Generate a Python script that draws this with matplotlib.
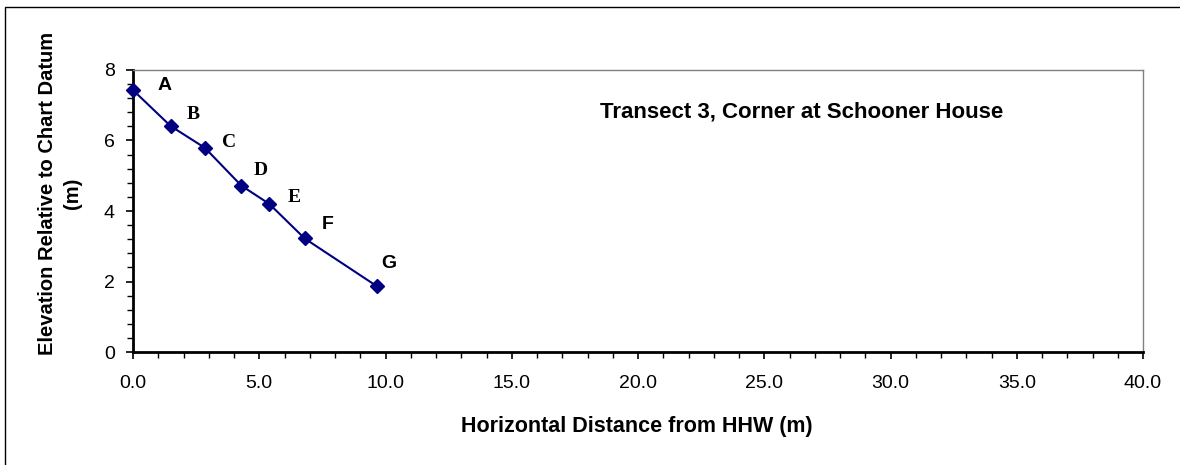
import matplotlib
matplotlib.use("Agg")
from matplotlib import pyplot as plt
from matplotlib.patches import Rectangle
from matplotlib.ticker import MultipleLocator, FormatStrFormatter

# survey points along the transect
labels = ["A", "B", "C", "D", "E", "F", "G"]
distance = [0.0, 1.49, 2.85, 4.29, 5.40, 6.80, 9.65]
elevation = [7.43, 6.41, 5.79, 4.72, 4.20, 3.22, 1.87]

# how each point label is drawn (serif or not) and where it sits, in pixels from its point
label_serif = [False, True, True, True, True, False, False]
label_offsets = [(25, 5), (16, 12), (17, 5), (12, 15), (18, 6), (17, 14), (5, 23)]

SANS = "Liberation Sans"
SERIF = "Liberation Serif"
NAVY = "#000080"

fig = plt.figure(figsize=(11.8, 4.65), dpi=100)
fig.patches.append(Rectangle((5 / 1180, -0.05), 1.2, (465 - 7) / 465 + 0.05,
                             transform=fig.transFigure, fill=False,
                             edgecolor="black", linewidth=1.0))

ax = fig.add_axes([133 / 1180, (465 - 352) / 465, (1143 - 133) / 1180, (352 - 70) / 465])
ax.plot(distance, elevation, color=NAVY, linewidth=1.5, marker="D",
        markersize=7.5, markerfacecolor=NAVY, markeredgecolor=NAVY, clip_on=False, zorder=3)

for lab, x, y, serif, off in zip(labels, distance, elevation, label_serif, label_offsets):
    ax.annotate(lab, (x, y), xytext=off, textcoords="offset pixels",
                fontsize=14, fontweight="bold", family=SERIF if serif else SANS,
                ha="left", va="center")

ax.text(0.662, 0.851, "Transect 3, Corner at Schooner House", transform=ax.transAxes,
        fontsize=16, fontweight="bold", family=SANS, ha="center", va="center")

ax.set_xlim(0, 40)
ax.set_ylim(0, 8)
ax.xaxis.set_major_locator(MultipleLocator(5))
ax.xaxis.set_minor_locator(MultipleLocator(1))
ax.xaxis.set_major_formatter(FormatStrFormatter("%.1f"))
ax.yaxis.set_major_locator(MultipleLocator(2))
ax.yaxis.set_minor_locator(MultipleLocator(0.4))

for side in ("top", "right"):
    ax.spines[side].set_color("#808080")
    ax.spines[side].set_linewidth(1.0)
for side in ("left", "bottom"):
    ax.spines[side].set_color("black")
    ax.spines[side].set_linewidth(2.0)

ax.tick_params(which="major", direction="out", length=5, width=1.2, labelsize=14)
ax.tick_params(which="minor", direction="out", length=4, width=1.0)
ax.tick_params(axis="x", which="major", pad=11.5)
ax.tick_params(axis="y", which="major", pad=8)
for t in ax.get_xticklabels() + ax.get_yticklabels():
    t.set_family(SANS)

fig.text(637 / 1180, 1 - 426 / 465, "Horizontal Distance from HHW (m)", fontsize=15.5,
         fontweight="bold", family=SANS, ha="center", va="center")
fig.text(60 / 1180, 1 - 193 / 465, "Elevation Relative to Chart Datum\n(m)", fontsize=14.5,
         fontweight="bold", family=SANS, ha="center", va="center", rotation=90,
         multialignment="center", linespacing=1.45)

fig.savefig("out.png", dpi=100)
